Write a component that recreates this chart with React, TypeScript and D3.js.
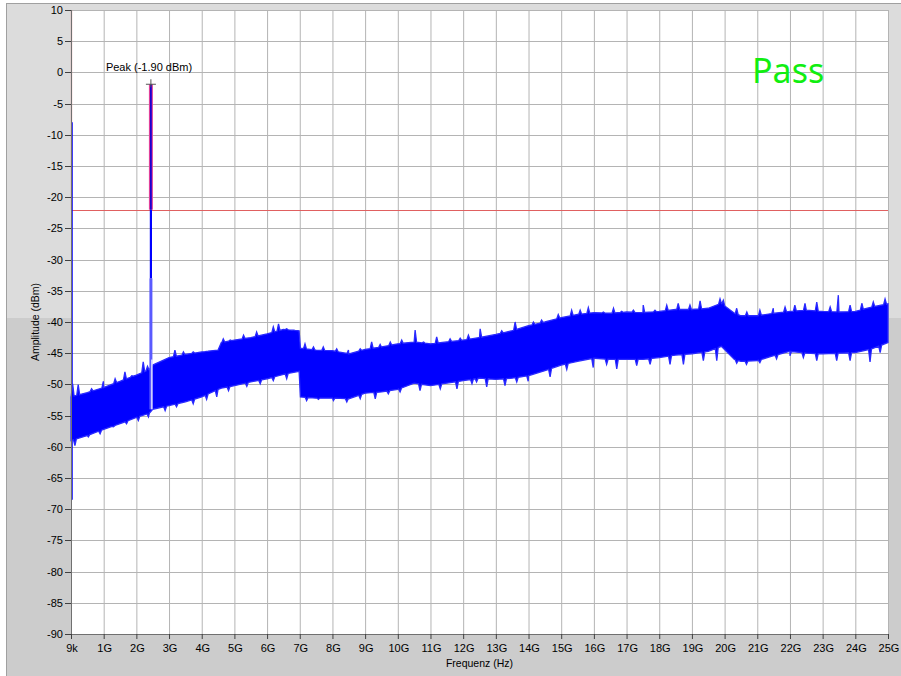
import React from "react";
import * as d3 from "d3";

// ---- data (frequency in GHz, amplitude in dBm) ----
const envFreqs = [0, 0.5, 1, 1.5, 2, 2.4, 2.5, 3, 3.5, 4, 4.5, 4.6, 5, 5.5, 6, 6.5, 6.98, 7.02, 7.5, 8, 8.5, 9, 9.5, 10, 10.5, 11, 11.5, 12, 12.5, 13, 13.5, 14, 14.5, 15, 15.5, 16, 16.5, 17, 17.5, 18, 18.5, 19, 19.5, 19.9, 20.3, 20.5, 21, 21.5, 22, 22.5, 23, 23.5, 24, 24.5, 25];
const envUpper = [-52, -51.3, -50.5, -49.5, -48.5, -47.6, -46.9, -45.7, -45.2, -44.8, -44.5, -43.3, -42.9, -42.5, -41.9, -41.2, -41.4, -44.2, -44.5, -44.6, -45.1, -44.4, -44.0, -43.5, -43.2, -43.5, -43.2, -42.9, -42.5, -42.0, -41.4, -40.6, -40.0, -39.3, -38.8, -38.5, -38.6, -38.4, -38.5, -38.3, -38.0, -38.0, -37.8, -37.0, -38.6, -39.0, -39.0, -38.6, -38.3, -38.1, -38.3, -38.4, -38.3, -37.6, -37.1];
const envLower = [-59, -58.2, -57.2, -56.3, -55.3, -54.6, -54.0, -53.4, -52.8, -52.0, -50.8, -50.6, -50.2, -49.6, -49.1, -48.4, -47.9, -52.0, -52.2, -52.2, -52.3, -51.4, -51.2, -50.8, -49.8, -50.2, -49.8, -49.4, -49.0, -49.2, -49.0, -48.6, -47.8, -46.9, -46.3, -45.8, -46.0, -46.0, -46.0, -45.7, -45.3, -45.1, -44.7, -43.9, -46.0, -46.3, -46.2, -45.4, -44.7, -45.0, -45.1, -45.0, -44.9, -44.3, -43.3];

const upperSpikeFreqs = [0.05, 0.22, 0.63, 0.99, 1.35, 1.65, 1.86, 2.21, 2.34, 2.62, 3.18, 3.44, 3.74, 4.15, 4.66, 4.87, 5.28, 5.68, 6.19, 6.35, 6.6, 6.81, 7.16, 7.42, 7.72, 8.13, 8.49, 8.85, 9.2, 9.46, 9.77, 10.12, 10.53, 10.79, 11.19, 11.6, 11.91, 12.16, 12.52, 13.18, 13.59, 14.15, 14.4, 14.91, 15.32, 15.58, 15.83, 16.29, 16.6, 16.85, 17.21, 17.51, 17.87, 18.23, 18.58, 18.94, 19.25, 19.86, 19.96, 20.37, 20.68, 21.08, 21.49, 21.85, 22.15, 22.46, 22.82, 23.23, 23.48, 23.84, 24.2, 24.55, 24.91];
const upperSpikeValues = [-49.9, -50.05, -50.7, -49.5, -49.1, -48.0, -48.6, -46.4, -47.1, -46.7, -44.5, -44.8, -44.8, -44.7, -42.7, -42.9, -42.1, -41.6, -40.8, -40.3, -41.1, -41.3, -43.5, -44.0, -44.0, -44.3, -44.5, -44.3, -43.2, -43.6, -43.2, -42.9, -41.3, -43.2, -42.4, -42.7, -42.6, -42.1, -41.1, -41.4, -40.0, -40.0, -39.7, -38.8, -38.1, -38.1, -37.7, -38.4, -37.8, -38.3, -38.1, -37.3, -38.1, -37.3, -37.0, -37.3, -36.6, -36.3, -36.5, -37.8, -38.4, -38.1, -37.8, -37.6, -37.3, -37.0, -36.8, -37.6, -35.7, -37.3, -37.0, -36.8, -36.3];
const lowerSpikeFreqs = [0.12, 0.53, 0.89, 1.3, 1.7, 2.06, 2.37, 2.88, 3.23, 3.74, 4.15, 4.46, 4.82, 5.38, 5.79, 6.19, 6.6, 7.21, 7.57, 8.03, 8.44, 8.85, 9.31, 9.71, 10.07, 10.68, 11.3, 11.81, 12.27, 12.41, 12.72, 13.28, 13.64, 13.99, 14.66, 15.17, 15.98, 16.39, 16.7, 17.31, 17.72, 18.33, 18.74, 19.35, 19.76, 20.37, 20.67, 21.08, 21.59, 22.0, 22.41, 22.82, 23.43, 23.84, 24.45, 24.76];
const lowerSpikeValues = [-59.8, -58.4, -57.9, -56.8, -56.3, -55.8, -55.2, -54.2, -53.6, -53.1, -52.4, -52.0, -51.0, -50.3, -49.9, -49.4, -49.1, -52.6, -52.4, -52.6, -52.8, -52.3, -52.3, -51.5, -51.2, -51.0, -50.7, -50.7, -49.9, -49.6, -50.4, -50.2, -49.6, -49.5, -48.8, -47.6, -47.3, -46.8, -47.5, -47.0, -46.8, -46.8, -46.8, -46.2, -46.2, -46.6, -46.8, -46.5, -45.9, -45.4, -45.7, -46.2, -46.2, -46.2, -46.4, -44.9];

const peakFreq = 2.445;
const peakValue = -1.9;
const peakFoot = -54;
const limitValue = -22;
const firstSampleTop = -8;
const firstSampleBottom = -68.5;

const xTickValues = d3.range(0, 26);
const xTickLabels = ["9k", "1G", "2G", "3G", "4G", "5G", "6G", "7G", "8G", "9G", "10G", "11G", "12G", "13G", "14G", "15G", "16G", "17G", "18G", "19G", "20G", "21G", "22G", "23G", "24G", "25G"];
const yTickValues = d3.range(-90, 11, 5);

export default function App() {
  const W = 901, H = 676;
  const left = 71, right = 888, top = 10, bottom = 634;
  const x = d3.scaleLinear().domain([0, 25]).range([left, right]);
  const y = d3.scaleLinear().domain([-90, 10]).range([bottom, top]);
  const font = "'Liberation Sans', Arial, sans-serif";

  const upInterp = d3.scaleLinear().domain(envFreqs).range(envUpper);
  const loInterp = d3.scaleLinear().domain(envFreqs).range(envLower);

  // merge spikes into the outline so the edge gets its jagged look
  const hw = 0.045;
  const upperPts: [number, number][] = [];
  envFreqs.forEach((f, i) => upperPts.push([f, envUpper[i]]));
  upperSpikeFreqs.forEach((f, i) => {
    if (upperSpikeValues[i] > upInterp(f)) {
      upperPts.push([Math.max(0, f - hw), upInterp(Math.max(0, f - hw))]);
      upperPts.push([f, upperSpikeValues[i]]);
      upperPts.push([Math.min(25, f + hw), upInterp(Math.min(25, f + hw))]);
    }
  });
  upperPts.sort((a, b) => a[0] - b[0]);
  const lowerPts: [number, number][] = [];
  envFreqs.forEach((f, i) => lowerPts.push([f, envLower[i]]));
  lowerSpikeFreqs.forEach((f, i) => {
    if (lowerSpikeValues[i] < loInterp(f)) {
      lowerPts.push([Math.max(0, f - hw), loInterp(Math.max(0, f - hw))]);
      lowerPts.push([f, lowerSpikeValues[i]]);
      lowerPts.push([Math.min(25, f + hw), loInterp(Math.min(25, f + hw))]);
    }
  });
  lowerPts.sort((a, b) => a[0] - b[0]);
  const line = d3.line<[number, number]>().x((d) => x(d[0])).y((d) => y(d[1]));
  const outline = (line(upperPts) || "") + "L" + (line(lowerPts.slice().reverse()) || "").slice(1) + "Z";

  const px = x(peakFreq);

  return (
    <svg width={W} height={H} style={{ position: "absolute", left: 0, top: 0, background: "#fff" }}>
      {/* panel */}
      <rect x={6.5} y={3.5} width={W} height={H} fill="#dcdcdc" stroke="#a0a0a0" />
      <rect x={7} y={318} width={W} height={H - 318} fill="#cccccc" />
      {/* plot area */}
      <rect x={left} y={top} width={right - left} height={bottom - top} fill="#fff" />
      {/* grid */}
      {xTickValues.map((v) => (
        <line key={"gx" + v} x1={x(v) + 0.5} x2={x(v) + 0.5} y1={top} y2={bottom} stroke="#b4b4b4" strokeWidth={1} />
      ))}
      {yTickValues.map((v) => (
        <line key={"gy" + v} x1={left} x2={right} y1={Math.round(y(v)) + 0.5} y2={Math.round(y(v)) + 0.5} stroke="#b4b4b4" strokeWidth={1} />
      ))}
      {/* limit line */}
      <line x1={left + 0.5} x2={left + 0.5} y1={y(10)} y2={y(limitValue)} stroke="#e05050" strokeWidth={1.2} />
      <line x1={left} x2={right} y1={Math.round(y(limitValue)) + 0.5} y2={Math.round(y(limitValue)) + 0.5} stroke="#e06060" strokeWidth={1} />
      {/* first sample */}
      <line x1={left + 1} x2={left + 1} y1={y(firstSampleTop)} y2={y(firstSampleBottom)} stroke="#0000ff" strokeWidth={1.5} />
      {/* noise band */}
      <path d={outline} fill="#0000ff" stroke="#2a2aff" strokeWidth={1.3} strokeLinejoin="miter" />
      {/* peak */}
      <line x1={px} x2={px} y1={y(-33)} y2={y(peakFoot)} stroke="#5a5aff" strokeWidth={3} />
      <line x1={px + 1} x2={px + 1} y1={y(-46)} y2={y(peakFoot)} stroke="#ffffff" strokeWidth={1.2} />
      <line x1={px} x2={px} y1={y(limitValue)} y2={y(-33)} stroke="#0000ff" strokeWidth={2.2} />
      <line x1={px} x2={px} y1={y(peakValue)} y2={y(limitValue)} stroke="#e0409a" strokeWidth={4} />
      <line x1={px} x2={px} y1={y(peakValue)} y2={y(limitValue)} stroke="#1a00d0" strokeWidth={1.8} />
      {/* marker */}
      <g stroke="#555" strokeWidth={1}>
        <line x1={px - 5} x2={px + 5} y1={y(peakValue)} y2={y(peakValue)} />
        <line x1={px} x2={px} y1={y(peakValue) - 5} y2={y(peakValue) + 3} />
      </g>
      <text x={px - 45} y={y(peakValue) - 13} fontFamily={font} fontSize={11} fill="#000">Peak (-1.90 dBm)</text>
      {/* axes */}
      <line x1={left + 0.5} x2={left + 0.5} y1={top} y2={bottom + 1} stroke="#707070" />
      <line x1={left} x2={right} y1={bottom + 0.5} y2={bottom + 0.5} stroke="#707070" />
      {yTickValues.map((v) => (
        <g key={"yt" + v}>
          <line x1={left - 6} x2={left} y1={Math.round(y(v)) + 0.5} y2={Math.round(y(v)) + 0.5} stroke="#404040" />
          <text x={left - 8} y={y(v) + 4} textAnchor="end" fontFamily={font} fontSize={11} fill="#000">{v}</text>
        </g>
      ))}
      {xTickValues.map((v, i) => (
        <g key={"xt" + v}>
          <line x1={x(v) + 0.5} x2={x(v) + 0.5} y1={bottom} y2={bottom + 5} stroke="#404040" />
          <text x={x(v) + 1} y={652} textAnchor="middle" fontFamily={font} fontSize={11} fill="#000">{xTickLabels[i]}</text>
        </g>
      ))}
      <text x={(left + right) / 2} y={667} textAnchor="middle" fontFamily={font} fontSize={10.5} fill="#000">Frequenz (Hz)</text>
      <text transform={`translate(39, ${(top + bottom) / 2}) rotate(-90)`} textAnchor="middle" fontFamily={font} fontSize={10.5} fill="#000">Amplitude (dBm)</text>
      {/* Pass */}
      <text x={752} y={83} fontFamily="'Noto Sans', 'Open Sans', sans-serif" fontSize={34} fill="#11ee11">Pass</text>
    </svg>
  );
}
